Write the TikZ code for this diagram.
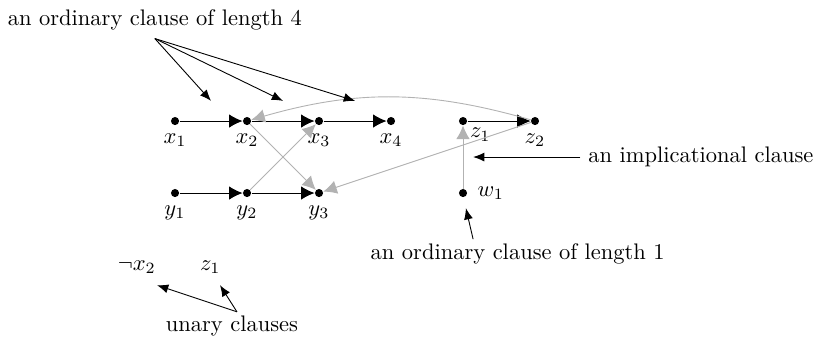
\documentclass[tikz,border=0pt]{standalone}
\usetikzlibrary{arrows.meta}

\begin{document}
\begin{tikzpicture}[x=32pt,y=32pt,
    dot/.style={circle,fill,inner sep=0pt,minimum size=3.6pt},
    edge/.style={-{Latex[length=6pt,width=6pt]}},
    impl/.style={black!30,-{Latex[length=6pt,width=6pt]}},
    note/.style={-{Latex[length=5pt,width=4pt]}}]
    \useasboundingbox (-2.431,-2.056) rectangle (8.875,2.681);
    % the literals
    \foreach \i in {1,2,3,4}{
      \node[dot,label=below:$x_\i$] (x\i) at (\i-1,1) {};
    }
    \foreach \i in {1,2,3}{
      \node[dot,label=below:$y_\i$] (y\i) at (\i-1,0) {};
    }
    \node[dot,label={[inner sep=1.5pt]below right:$z_1$}] (z1) at (4,1) {};
    \node[dot,label=below:$z_2$] (z2) at (5,1) {};
    \node[dot,label={[label distance=1pt]right:$w_1$}] (w1) at (4,0) {};
    % clauses
    \foreach \a/\b in {x1/x2,x2/x3,x3/x4,y1/y2,y2/y3,z1/z2}{
      \draw[edge] (\a) -- (\b);
    }
    \foreach \a/\b in {x2/y3,y2/x3,z2/y3,w1/z1}{
      \draw[impl] (\a) -- (\b);
    }
    \draw[impl] (z2) to[bend right=16] (x2);
    % annotations
    \node[anchor=base] (ord4) at (-0.28,2.32) {an ordinary clause of length 4};
    \foreach \i in {1,2,3}{
      \coordinate (p\i) at (\i-0.5,1.28);
      \draw[note] (ord4.south) -- (p\i);
    }
    \node[anchor=west] (implnote) at (5.63,0.5) {an implicational clause};
    \coordinate (pi) at (4.14,0.5);
    \draw[note] (implnote) -- (pi);
    \node[anchor=base] (ord1) at (4.76,-0.93) {an ordinary clause of length 1};
    \coordinate (a1) at (4.14,-0.64);
    \coordinate (b1) at (4.04,-0.21);
    \draw[note] (a1) -- (b1);
    \node (nx2) at (-0.53,-1.03) {$\neg x_2$};
    \node (uz1) at (0.49,-1.03) {$z_1$};
    \node[anchor=base] (unary) at (0.79,-1.93) {unary clauses};
    \coordinate (ut) at (0.86,-1.65);
    \coordinate (un1) at (-0.25,-1.28);
    \coordinate (un2) at (0.625,-1.28);
    \draw[note] (ut) -- (un1);
    \draw[note] (ut) -- (un2);
  \end{tikzpicture}
\end{document}
